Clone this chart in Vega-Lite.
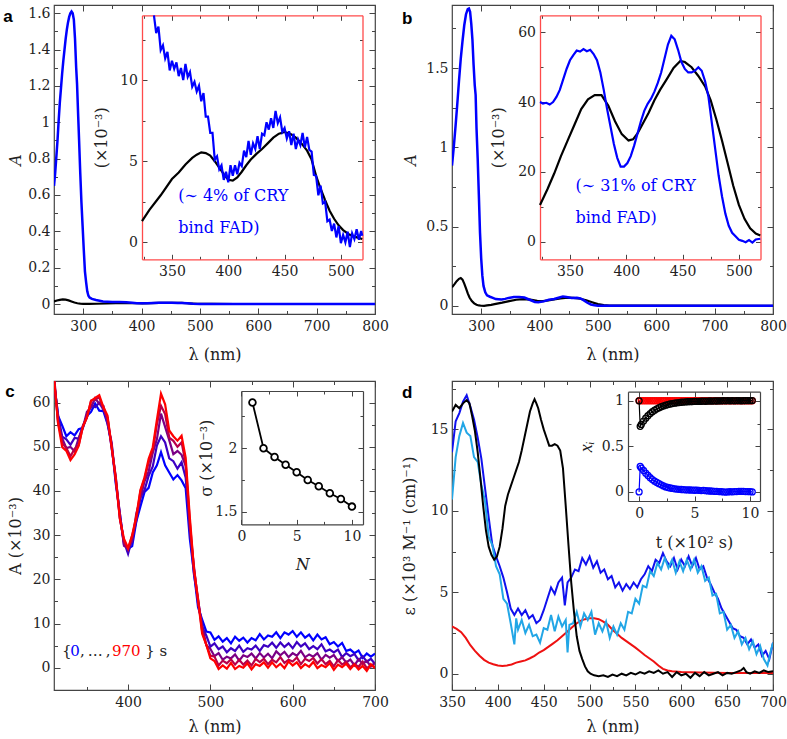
{
"$schema": "https://vega.github.io/schema/vega-lite/v6.json",
"autosize": {"type": "pad"},
"padding": {"left": 2, "top": 3, "right": 5, "bottom": 5},
"background": "white",
"columns": 2,
"spacing": {"row": 67, "column": 77},
"bounds": "flush",
"config": {
 "font": "DejaVu Serif",
 "view": {"stroke": "#444", "strokeWidth": 1.2},
 "axis": {"labelFont": "DejaVu Serif", "labelFontSize": 14, "labelColor": "#222", "titleFont": "DejaVu Serif", "titleFontSize": 16, "titleFontWeight": "normal", "titleColor": "#222", "tickColor": "#444", "tickWidth": 1, "grid": false, "labelFlush": false, "labelOverlap": false, "minExtent": 0},
 "text": {"font": "DejaVu Serif"}
},
"datasets": {
 "a_blue": [{"w":250,"v":0.65},{"w":252,"v":0.72},{"w":254,"v":0.81},{"w":256,"v":0.9},{"w":258,"v":1.01},{"w":260,"v":1.11},{"w":262,"v":1.19},{"w":264,"v":1.27},{"w":266,"v":1.34},{"w":268,"v":1.4},{"w":270,"v":1.46},{"w":272,"v":1.51},{"w":274,"v":1.55},{"w":276,"v":1.58},{"w":278,"v":1.6},{"w":280,"v":1.61},{"w":282,"v":1.6},{"w":284,"v":1.565},{"w":286,"v":1.46},{"w":288,"v":1.3},{"w":289.5,"v":1.21},{"w":291.5,"v":1.03},{"w":293,"v":0.9},{"w":295,"v":0.72},{"w":297,"v":0.56},{"w":299,"v":0.43},{"w":301,"v":0.3},{"w":303,"v":0.18},{"w":305,"v":0.12},{"w":307,"v":0.07},{"w":309,"v":0.045},{"w":311,"v":0.036},{"w":315,"v":0.028},{"w":322,"v":0.022},{"w":334,"v":0.014},{"w":350,"v":0.011},{"w":362,"v":0.0105},{"w":374,"v":0.0093},{"w":384,"v":0.007},{"w":392,"v":0.0046},{"w":400,"v":0.0042},{"w":410,"v":0.0048},{"w":420,"v":0.0058},{"w":430,"v":0.0064},{"w":442,"v":0.0076},{"w":452,"v":0.0067},{"w":462,"v":0.0062},{"w":470,"v":0.0062},{"w":478,"v":0.0039},{"w":488,"v":0.0017},{"w":500,"v":0.0004},{"w":520,"v":0.0005},{"w":560,"v":0},{"w":800,"v":0}],
 "a_black": [{"w":250,"v":0.014},{"w":255,"v":0.019},{"w":260,"v":0.023},{"w":265,"v":0.025},{"w":270,"v":0.024},{"w":275,"v":0.02},{"w":280,"v":0.014},{"w":285,"v":0.008},{"w":290,"v":0.004},{"w":295,"v":0.002},{"w":300,"v":0.001},{"w":310,"v":0.0008},{"w":323,"v":0.0013},{"w":340,"v":0.0029},{"w":356,"v":0.0043},{"w":371,"v":0.0053},{"w":377,"v":0.0056},{"w":385,"v":0.0053},{"w":392,"v":0.0046},{"w":401,"v":0.0038},{"w":416,"v":0.0047},{"w":430,"v":0.0058},{"w":442,"v":0.0066},{"w":451,"v":0.0068},{"w":460,"v":0.0064},{"w":469,"v":0.0058},{"w":478,"v":0.0041},{"w":487,"v":0.0025},{"w":496,"v":0.0012},{"w":508,"v":0.0005},{"w":520,"v":0.0002},{"w":560,"v":0},{"w":800,"v":0}],
 "ai_black": [{"w":323.4,"v":1.3},{"w":330,"v":2.0},{"w":340,"v":2.9},{"w":350,"v":3.9},{"w":356,"v":4.3},{"w":362,"v":4.8},{"w":368,"v":5.2},{"w":372,"v":5.4},{"w":376,"v":5.55},{"w":380,"v":5.5},{"w":384,"v":5.35},{"w":388,"v":5.0},{"w":392,"v":4.6},{"w":396,"v":4.2},{"w":400,"v":3.85},{"w":404,"v":3.8},{"w":408,"v":4.0},{"w":412,"v":4.35},{"w":416,"v":4.75},{"w":420,"v":5.1},{"w":425,"v":5.45},{"w":430,"v":5.75},{"w":435,"v":6.1},{"w":440,"v":6.45},{"w":445,"v":6.7},{"w":450,"v":6.8},{"w":455,"v":6.7},{"w":460,"v":6.45},{"w":465,"v":6.1},{"w":470,"v":5.65},{"w":474,"v":5.1},{"w":478,"v":4.1},{"w":482,"v":3.3},{"w":486,"v":2.6},{"w":490,"v":1.95},{"w":494,"v":1.45},{"w":498,"v":1.05},{"w":502,"v":0.75},{"w":507,"v":0.5},{"w":512,"v":0.35},{"w":519,"v":0.2}],
 "ai_blue": [{"w":334,"v":14.0},{"w":336,"v":12.9},{"w":338,"v":13.3},{"w":340,"v":11.85},{"w":342,"v":12.15},{"w":344,"v":11.35},{"w":346,"v":11.75},{"w":348,"v":10.6},{"w":350,"v":11.2},{"w":352,"v":10.7},{"w":354,"v":11.1},{"w":356,"v":10.25},{"w":358,"v":10.75},{"w":360,"v":10.0},{"w":362,"v":11.0},{"w":364,"v":10.2},{"w":366,"v":10.5},{"w":368,"v":9.6},{"w":370,"v":9.9},{"w":372,"v":9.3},{"w":374,"v":9.65},{"w":376,"v":8.7},{"w":378,"v":9.2},{"w":380,"v":7.75},{"w":382,"v":7.75},{"w":384,"v":6.75},{"w":386,"v":6.75},{"w":388,"v":5.1},{"w":390,"v":5.3},{"w":392,"v":4.5},{"w":394,"v":4.75},{"w":396,"v":3.85},{"w":398,"v":4.35},{"w":400,"v":3.7},{"w":402,"v":4.75},{"w":404,"v":4.1},{"w":406,"v":4.75},{"w":408,"v":4.2},{"w":410,"v":4.9},{"w":412,"v":4.7},{"w":414,"v":5.65},{"w":416,"v":5.25},{"w":418,"v":6.25},{"w":420,"v":5.4},{"w":422,"v":6.1},{"w":424,"v":5.75},{"w":426,"v":6.55},{"w":428,"v":5.75},{"w":430,"v":6.7},{"w":432,"v":6.6},{"w":434,"v":7.4},{"w":436,"v":6.95},{"w":438,"v":7.65},{"w":440,"v":7.05},{"w":442,"v":8.1},{"w":444,"v":7.35},{"w":446,"v":7.7},{"w":448,"v":6.8},{"w":450,"v":7.05},{"w":452,"v":6.4},{"w":454,"v":6.85},{"w":456,"v":6.0},{"w":458,"v":6.7},{"w":460,"v":5.75},{"w":462,"v":6.35},{"w":464,"v":6.0},{"w":466,"v":6.75},{"w":468,"v":5.85},{"w":470,"v":6.5},{"w":472,"v":5.7},{"w":474,"v":5.6},{"w":476,"v":4.15},{"w":478,"v":4.1},{"w":480,"v":2.9},{"w":482,"v":3.5},{"w":484,"v":2.4},{"w":486,"v":2.5},{"w":488,"v":1.3},{"w":490,"v":1.4},{"w":492,"v":0.7},{"w":494,"v":1.15},{"w":496,"v":0.3},{"w":498,"v":1.0},{"w":500,"v":-0.05},{"w":502,"v":0.45},{"w":504,"v":0.0},{"w":506,"v":0.65},{"w":508,"v":-0.3},{"w":510,"v":0.55},{"w":512,"v":0.2},{"w":514,"v":0.8},{"w":516,"v":0.15},{"w":518,"v":0.7},{"w":519,"v":0.4}],
 "b_blue": [{"w":250,"v":0.885},{"w":253,"v":1.0},{"w":256,"v":1.13},{"w":259,"v":1.27},{"w":262,"v":1.42},{"w":265,"v":1.56},{"w":268,"v":1.67},{"w":271,"v":1.77},{"w":274,"v":1.84},{"w":277,"v":1.872},{"w":279,"v":1.876},{"w":281,"v":1.855},{"w":283,"v":1.78},{"w":285,"v":1.68},{"w":287,"v":1.52},{"w":289,"v":1.39},{"w":290.5,"v":1.33},{"w":292,"v":1.12},{"w":294,"v":0.93},{"w":296,"v":0.7},{"w":298,"v":0.46},{"w":300,"v":0.3},{"w":302,"v":0.19},{"w":304,"v":0.125},{"w":307,"v":0.085},{"w":310,"v":0.066},{"w":315,"v":0.057},{"w":320,"v":0.05},{"w":325,"v":0.042},{"w":335,"v":0.04},{"w":341,"v":0.0435},{"w":347,"v":0.0495},{"w":356,"v":0.0548},{"w":365,"v":0.0546},{"w":374,"v":0.052},{"w":383,"v":0.038},{"w":392,"v":0.024},{"w":398,"v":0.0215},{"w":407,"v":0.0275},{"w":416,"v":0.0375},{"w":425,"v":0.043},{"w":434,"v":0.0525},{"w":440,"v":0.059},{"w":446,"v":0.055},{"w":455,"v":0.0485},{"w":464,"v":0.05},{"w":470,"v":0.046},{"w":476,"v":0.034},{"w":482,"v":0.019},{"w":488,"v":0.008},{"w":494,"v":0.0025},{"w":500,"v":0.0005},{"w":520,"v":0.0005},{"w":800,"v":0}],
 "b_black": [{"w":250,"v":0.117},{"w":254,"v":0.135},{"w":258,"v":0.155},{"w":262,"v":0.17},{"w":265,"v":0.175},{"w":268,"v":0.165},{"w":271,"v":0.14},{"w":274,"v":0.11},{"w":277,"v":0.078},{"w":280,"v":0.052},{"w":284,"v":0.03},{"w":288,"v":0.015},{"w":292,"v":0.006},{"w":296,"v":0.002},{"w":300,"v":0},{"w":305,"v":-0.001},{"w":310,"v":0.002},{"w":317,"v":0.006},{"w":323,"v":0.0105},{"w":336,"v":0.0195},{"w":348,"v":0.029},{"w":360,"v":0.038},{"w":372,"v":0.042},{"w":384,"v":0.039},{"w":396,"v":0.0308},{"w":406,"v":0.0293},{"w":415,"v":0.034},{"w":425,"v":0.0405},{"w":436,"v":0.0466},{"w":448,"v":0.0518},{"w":458,"v":0.05},{"w":470,"v":0.0445},{"w":480,"v":0.035},{"w":490,"v":0.0225},{"w":500,"v":0.0105},{"w":510,"v":0.0038},{"w":520,"v":0.0017},{"w":540,"v":0.0005},{"w":800,"v":0}],
 "bi_blue": [{"w":323.4,"v":40.0},{"w":326,"v":39.6},{"w":329,"v":39.8},{"w":332,"v":39.3},{"w":335,"v":40.0},{"w":338,"v":41.5},{"w":341,"v":43.5},{"w":344,"v":46.5},{"w":347,"v":49.5},{"w":350,"v":52.0},{"w":353,"v":53.5},{"w":356,"v":54.8},{"w":359,"v":54.5},{"w":362,"v":55.2},{"w":365,"v":54.6},{"w":368,"v":55.0},{"w":371,"v":53.8},{"w":374,"v":52.0},{"w":377,"v":48.5},{"w":380,"v":43.5},{"w":383,"v":38.0},{"w":386,"v":33.0},{"w":389,"v":28.0},{"w":392,"v":24.0},{"w":395,"v":21.5},{"w":398,"v":21.5},{"w":401,"v":22.5},{"w":404,"v":24.5},{"w":407,"v":27.5},{"w":410,"v":31.0},{"w":413,"v":34.5},{"w":416,"v":37.5},{"w":419,"v":39.5},{"w":422,"v":41.0},{"w":425,"v":43.0},{"w":428,"v":45.5},{"w":431,"v":48.5},{"w":434,"v":52.5},{"w":437,"v":56.5},{"w":440,"v":59.0},{"w":443,"v":58.0},{"w":446,"v":55.0},{"w":449,"v":51.5},{"w":452,"v":49.5},{"w":455,"v":48.5},{"w":458,"v":48.5},{"w":461,"v":49.0},{"w":464,"v":50.0},{"w":467,"v":49.0},{"w":470,"v":46.0},{"w":473,"v":41.5},{"w":476,"v":34.0},{"w":479,"v":26.5},{"w":482,"v":19.0},{"w":485,"v":13.0},{"w":488,"v":8.0},{"w":491,"v":4.5},{"w":494,"v":2.5},{"w":497,"v":1.5},{"w":500,"v":0.5},{"w":503,"v":0.2},{"w":506,"v":-0.2},{"w":509,"v":0.4},{"w":512,"v":-0.3},{"w":515,"v":0.6},{"w":519,"v":0.8}],
 "bi_black": [{"w":323.4,"v":10.5},{"w":330,"v":15.0},{"w":336,"v":19.5},{"w":342,"v":24.5},{"w":348,"v":29.0},{"w":354,"v":33.5},{"w":360,"v":38.0},{"w":366,"v":40.8},{"w":372,"v":42.0},{"w":378,"v":42.0},{"w":384,"v":39.0},{"w":390,"v":34.5},{"w":396,"v":30.8},{"w":402,"v":29.0},{"w":406,"v":29.3},{"w":410,"v":31.0},{"w":415,"v":34.0},{"w":420,"v":37.0},{"w":425,"v":40.5},{"w":430,"v":43.5},{"w":436,"v":46.6},{"w":442,"v":49.8},{"w":448,"v":51.8},{"w":452,"v":51.5},{"w":458,"v":50.0},{"w":464,"v":47.5},{"w":470,"v":44.5},{"w":475,"v":40.5},{"w":480,"v":35.0},{"w":485,"v":29.0},{"w":490,"v":22.5},{"w":495,"v":16.0},{"w":500,"v":10.5},{"w":505,"v":6.5},{"w":510,"v":3.8},{"w":515,"v":2.3},{"w":519,"v":1.7}],
 "c_curves": [
{"w":310,"k":0,"v":64.6},{"w":315,"k":0,"v":57.0},{"w":320,"k":0,"v":54.8},{"w":325,"k":0,"v":52.4},{"w":330,"k":0,"v":53.3},{"w":335,"k":0,"v":52.6},{"w":340,"k":0,"v":54.0},{"w":345,"k":0,"v":54.3},{"w":350,"k":0,"v":57.0},{"w":355,"k":0,"v":57.9},{"w":360,"k":0,"v":59.8},{"w":365,"k":0,"v":58.2},{"w":370,"k":0,"v":58.1},{"w":375,"k":0,"v":55.2},{"w":380,"k":0,"v":50.6},{"w":385,"k":0,"v":41.7},{"w":390,"k":0,"v":34.9},{"w":395,"k":0,"v":27.9},{"w":400,"k":0,"v":26.9},{"w":405,"k":0,"v":27.5},{"w":410,"k":0,"v":33.1},{"w":415,"k":0,"v":36.5},{"w":420,"k":0,"v":39.8},{"w":425,"k":0,"v":40.7},{"w":430,"k":0,"v":44.2},{"w":435,"k":0,"v":45.8},{"w":440,"k":0,"v":48.8},{"w":445,"k":0,"v":45.8},{"w":450,"k":0,"v":44.2},{"w":455,"k":0,"v":42.6},{"w":460,"k":0,"v":43.6},{"w":465,"k":0,"v":42.4},{"w":470,"k":0,"v":40.6},{"w":475,"k":0,"v":29.2},{"w":480,"k":0,"v":21.6},{"w":485,"k":0,"v":13.7},{"w":490,"k":0,"v":10.9},{"w":495,"k":0,"v":8.2},{"w":500,"k":0,"v":8.0},{"w":505,"k":0,"v":6.3},{"w":510,"k":0,"v":7.1},{"w":515,"k":0,"v":5.9},{"w":520,"k":0,"v":6.7},{"w":525,"k":0,"v":5.5},{"w":530,"k":0,"v":7.0},{"w":535,"k":0,"v":6.1},{"w":540,"k":0,"v":6.8},{"w":545,"k":0,"v":5.7},{"w":550,"k":0,"v":6.7},{"w":555,"k":0,"v":6.2},{"w":560,"k":0,"v":7.6},{"w":565,"k":0,"v":6.4},{"w":570,"k":0,"v":7.3},{"w":575,"k":0,"v":7.0},{"w":580,"k":0,"v":8.0},{"w":585,"k":0,"v":6.7},{"w":590,"k":0,"v":8.0},{"w":595,"k":0,"v":7.5},{"w":600,"k":0,"v":8.3},{"w":605,"k":0,"v":7.0},{"w":610,"k":0,"v":8.0},{"w":615,"k":0,"v":6.8},{"w":620,"k":0,"v":7.5},{"w":625,"k":0,"v":6.2},{"w":630,"k":0,"v":7.5},{"w":635,"k":0,"v":6.4},{"w":640,"k":0,"v":6.9},{"w":645,"k":0,"v":5.3},{"w":650,"k":0,"v":5.8},{"w":655,"k":0,"v":4.8},{"w":660,"k":0,"v":5.6},{"w":665,"k":0,"v":3.8},{"w":670,"k":0,"v":4.1},{"w":675,"k":0,"v":3.3},{"w":680,"k":0,"v":3.9},{"w":685,"k":0,"v":2.2},{"w":690,"k":0,"v":3.2},{"w":695,"k":0,"v":2.5},{"w":700,"k":0,"v":3.2},
{"w":310,"k":1,"v":64.7},{"w":315,"k":1,"v":57.1},{"w":320,"k":1,"v":52.3},{"w":325,"k":1,"v":51.7},{"w":330,"k":1,"v":50.45},{"w":335,"k":1,"v":52.0},{"w":340,"k":1,"v":51.85},{"w":345,"k":1,"v":54.75},{"w":350,"k":1,"v":56.75},{"w":355,"k":1,"v":59.5},{"w":360,"k":1,"v":58.97},{"w":365,"k":1,"v":59.97},{"w":370,"k":1,"v":58.4},{"w":375,"k":1,"v":56.55},{"w":380,"k":1,"v":49.7},{"w":385,"k":1,"v":43.1},{"w":390,"k":1,"v":34.0},{"w":395,"k":1,"v":28.5},{"w":400,"k":1,"v":25.8},{"w":405,"k":1,"v":29.2},{"w":410,"k":1,"v":33.2},{"w":415,"k":1,"v":38.55},{"w":420,"k":1,"v":40.2},{"w":425,"k":1,"v":43.45},{"w":430,"k":1,"v":45.55},{"w":435,"k":1,"v":50.3},{"w":440,"k":1,"v":52.4},{"w":445,"k":1,"v":51.0},{"w":450,"k":1,"v":47.4},{"w":455,"k":1,"v":46.75},{"w":460,"k":1,"v":45.05},{"w":465,"k":1,"v":46.5},{"w":470,"k":1,"v":43.0},{"w":475,"k":1,"v":31.6},{"w":480,"k":1,"v":21.2},{"w":485,"k":1,"v":15.3},{"w":490,"k":1,"v":9.3},{"w":495,"k":1,"v":7.3},{"w":500,"k":1,"v":4.75},{"w":505,"k":1,"v":5.5},{"w":510,"k":1,"v":4.2},{"w":515,"k":1,"v":4.8},{"w":520,"k":1,"v":3.5},{"w":525,"k":1,"v":4.4},{"w":530,"k":1,"v":3.8},{"w":535,"k":1,"v":5.0},{"w":540,"k":1,"v":3.6},{"w":545,"k":1,"v":4.4},{"w":550,"k":1,"v":4.1},{"w":555,"k":1,"v":5.0},{"w":560,"k":1,"v":3.8},{"w":565,"k":1,"v":5.1},{"w":570,"k":1,"v":4.75},{"w":575,"k":1,"v":5.65},{"w":580,"k":1,"v":4.5},{"w":585,"k":1,"v":5.7},{"w":590,"k":1,"v":4.7},{"w":595,"k":1,"v":5.5},{"w":600,"k":1,"v":4.4},{"w":605,"k":1,"v":5.8},{"w":610,"k":1,"v":4.8},{"w":615,"k":1,"v":5.5},{"w":620,"k":1,"v":4.2},{"w":625,"k":1,"v":4.9},{"w":630,"k":1,"v":4.2},{"w":635,"k":1,"v":5.3},{"w":640,"k":1,"v":3.7},{"w":645,"k":1,"v":4.1},{"w":650,"k":1,"v":3.45},{"w":655,"k":1,"v":4.1},{"w":660,"k":1,"v":2.4},{"w":665,"k":1,"v":3.3},{"w":670,"k":1,"v":2.6},{"w":675,"k":1,"v":3.1},{"w":680,"k":1,"v":1.7},{"w":685,"k":1,"v":2.6},{"w":690,"k":1,"v":1.35},{"w":695,"k":1,"v":2.0},{"w":700,"k":1,"v":0.85},
{"w":310,"k":2,"v":66.4},{"w":315,"k":2,"v":55.3},{"w":320,"k":2,"v":51.9},{"w":325,"k":2,"v":49.7},{"w":330,"k":2,"v":49.95},{"w":335,"k":2,"v":49.0},{"w":340,"k":2,"v":51.95},{"w":345,"k":2,"v":54.25},{"w":350,"k":2,"v":57.95},{"w":355,"k":2,"v":58.9},{"w":360,"k":2,"v":61.0},{"w":365,"k":2,"v":59.7},{"w":370,"k":2,"v":59.3},{"w":375,"k":2,"v":55.35},{"w":380,"k":2,"v":51.0},{"w":385,"k":2,"v":42.3},{"w":390,"k":2,"v":35.0},{"w":395,"k":2,"v":27.6},{"w":400,"k":2,"v":27.1},{"w":405,"k":2,"v":28.6},{"w":410,"k":2,"v":34.9},{"w":415,"k":2,"v":38.35},{"w":420,"k":2,"v":42.2},{"w":425,"k":2,"v":44.45},{"w":430,"k":2,"v":48.65},{"w":435,"k":2,"v":51.7},{"w":440,"k":2,"v":57.5},{"w":445,"k":2,"v":54.5},{"w":450,"k":2,"v":51.5},{"w":455,"k":2,"v":48.35},{"w":460,"k":2,"v":49.05},{"w":465,"k":2,"v":48.2},{"w":470,"k":2,"v":45.7},{"w":475,"k":2,"v":31.3},{"w":480,"k":2,"v":23.0},{"w":485,"k":2,"v":14.6},{"w":490,"k":2,"v":9.7},{"w":495,"k":2,"v":5.1},{"w":500,"k":2,"v":4.25},{"w":505,"k":2,"v":2.6},{"w":510,"k":2,"v":3.3},{"w":515,"k":2,"v":1.8},{"w":520,"k":2,"v":2.5},{"w":525,"k":2,"v":2.1},{"w":530,"k":2,"v":3.0},{"w":535,"k":2,"v":1.6},{"w":540,"k":2,"v":2.8},{"w":545,"k":2,"v":2.4},{"w":550,"k":2,"v":3.2},{"w":555,"k":2,"v":2.1},{"w":560,"k":2,"v":3.3},{"w":565,"k":2,"v":2.3},{"w":570,"k":2,"v":3.15},{"w":575,"k":2,"v":2.15},{"w":580,"k":2,"v":3.7},{"w":585,"k":2,"v":2.8},{"w":590,"k":2,"v":3.6},{"w":595,"k":2,"v":2.4},{"w":600,"k":2,"v":3.3},{"w":605,"k":2,"v":2.7},{"w":610,"k":2,"v":3.8},{"w":615,"k":2,"v":2.35},{"w":620,"k":2,"v":3.0},{"w":625,"k":2,"v":2.5},{"w":630,"k":2,"v":3.3},{"w":635,"k":2,"v":1.8},{"w":640,"k":2,"v":2.9},{"w":645,"k":2,"v":2.25},{"w":650,"k":2,"v":2.85},{"w":655,"k":2,"v":1.5},{"w":660,"k":2,"v":2.4},{"w":665,"k":2,"v":1.2},{"w":670,"k":2,"v":1.85},{"w":675,"k":2,"v":0.55},{"w":680,"k":2,"v":1.9},{"w":685,"k":2,"v":0.9},{"w":690,"k":2,"v":1.55},{"w":695,"k":2,"v":0.25},{"w":700,"k":2,"v":1.15},
{"w":310,"k":3,"v":65.3},{"w":315,"k":3,"v":55.8},{"w":320,"k":3,"v":50.8},{"w":325,"k":3,"v":49.7},{"w":330,"k":3,"v":47.85},{"w":335,"k":3,"v":49.5},{"w":340,"k":3,"v":50.45},{"w":345,"k":3,"v":54.45},{"w":350,"k":3,"v":56.6},{"w":355,"k":3,"v":60.45},{"w":360,"k":3,"v":60.7},{"w":365,"k":3,"v":61.2},{"w":370,"k":3,"v":58.6},{"w":375,"k":3,"v":56.55},{"w":380,"k":3,"v":50.0},{"w":385,"k":3,"v":43.3},{"w":390,"k":3,"v":33.9},{"w":395,"k":3,"v":28.5},{"w":400,"k":3,"v":26.8},{"w":405,"k":3,"v":29.9},{"w":410,"k":3,"v":33.8},{"w":415,"k":3,"v":39.95},{"w":420,"k":3,"v":42.8},{"w":425,"k":3,"v":46.45},{"w":430,"k":3,"v":48.95},{"w":435,"k":3,"v":55.1},{"w":440,"k":3,"v":59.3},{"w":445,"k":3,"v":57.4},{"w":450,"k":3,"v":52.1},{"w":455,"k":3,"v":51.35},{"w":460,"k":3,"v":50.0},{"w":465,"k":3,"v":51.0},{"w":470,"k":3,"v":46.2},{"w":475,"k":3,"v":33.1},{"w":480,"k":3,"v":22.3},{"w":485,"k":3,"v":15.7},{"w":490,"k":3,"v":8.2},{"w":495,"k":3,"v":5.2},{"w":500,"k":3,"v":2.75},{"w":505,"k":3,"v":2.5},{"w":510,"k":3,"v":0.5},{"w":515,"k":3,"v":1.6},{"w":520,"k":3,"v":1.0},{"w":525,"k":3,"v":1.9},{"w":530,"k":3,"v":0.7},{"w":535,"k":3,"v":1.8},{"w":540,"k":3,"v":0.7},{"w":545,"k":3,"v":1.6},{"w":550,"k":3,"v":0.5},{"w":555,"k":3,"v":2.0},{"w":560,"k":3,"v":1.25},{"w":565,"k":3,"v":2.0},{"w":570,"k":3,"v":0.8},{"w":575,"k":3,"v":1.8},{"w":580,"k":3,"v":1.2},{"w":585,"k":3,"v":2.4},{"w":590,"k":3,"v":1.1},{"w":595,"k":3,"v":1.8},{"w":600,"k":3,"v":1.4},{"w":605,"k":3,"v":2.3},{"w":610,"k":3,"v":0.8},{"w":615,"k":3,"v":2.0},{"w":620,"k":3,"v":1.5},{"w":625,"k":3,"v":2.2},{"w":630,"k":3,"v":0.95},{"w":635,"k":3,"v":1.95},{"w":640,"k":3,"v":0.8},{"w":645,"k":3,"v":1.55},{"w":650,"k":3,"v":0.3},{"w":655,"k":3,"v":1.75},{"w":660,"k":3,"v":0.7},{"w":665,"k":3,"v":1.35},{"w":670,"k":3,"v":0.1},{"w":675,"k":3,"v":0.85},{"w":680,"k":3,"v":0.2},{"w":685,"k":3,"v":1.35},{"w":690,"k":3,"v":-0.1},{"w":695,"k":3,"v":0.55},{"w":700,"k":3,"v":0.15},
{"w":310,"k":4,"v":65.8},{"w":315,"k":4,"v":55.2},{"w":320,"k":4,"v":49.9},{"w":325,"k":4,"v":49.1},{"w":330,"k":4,"v":47.0},{"w":335,"k":4,"v":48.3},{"w":340,"k":4,"v":50.2},{"w":345,"k":4,"v":54.6},{"w":350,"k":4,"v":56.7},{"w":355,"k":4,"v":60.4},{"w":360,"k":4,"v":61.1},{"w":365,"k":4,"v":61.7},{"w":370,"k":4,"v":59.0},{"w":375,"k":4,"v":57.1},{"w":380,"k":4,"v":50.0},{"w":385,"k":4,"v":42.8},{"w":390,"k":4,"v":33.7},{"w":395,"k":4,"v":29.2},{"w":400,"k":4,"v":27.1},{"w":405,"k":4,"v":30.0},{"w":410,"k":4,"v":34.3},{"w":415,"k":4,"v":40.2},{"w":420,"k":4,"v":43.1},{"w":425,"k":4,"v":47.3},{"w":430,"k":4,"v":49.9},{"w":435,"k":4,"v":56.1},{"w":440,"k":4,"v":62.0},{"w":445,"k":4,"v":59.6},{"w":450,"k":4,"v":53.7},{"w":455,"k":4,"v":52.4},{"w":460,"k":4,"v":51.4},{"w":465,"k":4,"v":52.5},{"w":470,"k":4,"v":47.5},{"w":475,"k":4,"v":34.1},{"w":480,"k":4,"v":22.5},{"w":485,"k":4,"v":15.3},{"w":490,"k":4,"v":7.7},{"w":495,"k":4,"v":5.2},{"w":500,"k":4,"v":2.1},{"w":505,"k":4,"v":1.5},{"w":510,"k":4,"v":-0.3},{"w":515,"k":4,"v":0.5},{"w":520,"k":4,"v":-0.2},{"w":525,"k":4,"v":1.1},{"w":530,"k":4,"v":-0.3},{"w":535,"k":4,"v":0.4},{"w":540,"k":4,"v":0.0},{"w":545,"k":4,"v":1.0},{"w":550,"k":4,"v":-0.4},{"w":555,"k":4,"v":0.8},{"w":560,"k":4,"v":0.4},{"w":565,"k":4,"v":1.2},{"w":570,"k":4,"v":0.0},{"w":575,"k":4,"v":1.2},{"w":580,"k":4,"v":0.1},{"w":585,"k":4,"v":0.9},{"w":590,"k":4,"v":-0.1},{"w":595,"k":4,"v":1.4},{"w":600,"k":4,"v":0.5},{"w":605,"k":4,"v":1.2},{"w":610,"k":4,"v":-0.1},{"w":615,"k":4,"v":0.8},{"w":620,"k":4,"v":0.2},{"w":625,"k":4,"v":1.3},{"w":630,"k":4,"v":-0.1},{"w":635,"k":4,"v":0.6},{"w":640,"k":4,"v":0.1},{"w":645,"k":4,"v":1.0},{"w":650,"k":4,"v":-0.5},{"w":655,"k":4,"v":0.7},{"w":660,"k":4,"v":0.1},{"w":665,"k":4,"v":0.9},{"w":670,"k":4,"v":-0.3},{"w":675,"k":4,"v":0.7},{"w":680,"k":4,"v":-0.4},{"w":685,"k":4,"v":0.4},{"w":690,"k":4,"v":-0.7},{"w":695,"k":4,"v":0.8},{"w":700,"k":4,"v":-0.1}
 ],
 "ci": [{"n":1,"s":2.36},{"n":2,"s":2.0},{"n":3,"s":1.93},{"n":4,"s":1.87},{"n":5,"s":1.81},{"n":6,"s":1.75},{"n":7,"s":1.7},{"n":8,"s":1.645},{"n":9,"s":1.6},{"n":10,"s":1.54}],
 "d_black": [{"w":350,"v":16.1},{"w":354,"v":16.5},{"w":358,"v":16.3},{"w":362,"v":16.6},{"w":366,"v":16.8},{"w":369,"v":16.6},{"w":372,"v":15.8},{"w":375,"v":14.9},{"w":378,"v":13.6},{"w":381,"v":12.0},{"w":384,"v":10.3},{"w":387,"v":8.8},{"w":390,"v":7.8},{"w":393,"v":7.3},{"w":396,"v":7.0},{"w":399,"v":7.2},{"w":402,"v":7.8},{"w":405,"v":8.9},{"w":408,"v":10.3},{"w":411,"v":11.0},{"w":414,"v":11.5},{"w":417,"v":12.0},{"w":420,"v":12.5},{"w":423,"v":13.0},{"w":426,"v":13.7},{"w":429,"v":14.5},{"w":432,"v":15.3},{"w":435,"v":16.1},{"w":438,"v":16.6},{"w":440,"v":16.85},{"w":442,"v":16.6},{"w":444,"v":16.3},{"w":447,"v":15.6},{"w":450,"v":15.0},{"w":453,"v":14.5},{"w":456,"v":14.0},{"w":459,"v":14.0},{"w":462,"v":14.1},{"w":465,"v":14.0},{"w":468,"v":13.7},{"w":471,"v":12.6},{"w":474,"v":10.3},{"w":477,"v":7.9},{"w":480,"v":5.6},{"w":483,"v":3.8},{"w":486,"v":2.3},{"w":489,"v":1.4},{"w":492,"v":0.9},{"w":495,"v":0.45},{"w":498,"v":0.15},{"w":501,"v":0.0},{"w":505,"v":-0.1},{"w":510,"v":-0.15},{"w":515,"v":-0.1},{"w":520,"v":-0.2},{"w":525,"v":-0.05},{"w":530,"v":-0.15},{"w":535,"v":0.0},{"w":540,"v":-0.1},{"w":545,"v":0.05},{"w":550,"v":-0.05},{"w":555,"v":0.1},{"w":560,"v":0.0},{"w":565,"v":0.15},{"w":570,"v":0.05},{"w":575,"v":0.2},{"w":580,"v":0.0},{"w":585,"v":0.1},{"w":590,"v":-0.2},{"w":595,"v":0.1},{"w":600,"v":-0.1},{"w":605,"v":0.0},{"w":610,"v":-0.25},{"w":615,"v":0.05},{"w":620,"v":-0.15},{"w":625,"v":0.1},{"w":630,"v":-0.1},{"w":635,"v":0.0},{"w":640,"v":0.1},{"w":645,"v":-0.1},{"w":650,"v":0.05},{"w":655,"v":0.0},{"w":660,"v":0.1},{"w":665,"v":0.2},{"w":668,"v":0.35},{"w":671,"v":0.1},{"w":675,"v":0.0},{"w":680,"v":0.15},{"w":685,"v":0.05},{"w":690,"v":0.2},{"w":695,"v":0.1},{"w":700,"v":0.15}],
 "d_red": [{"w":350,"v":2.9},{"w":355,"v":2.75},{"w":360,"v":2.55},{"w":365,"v":2.2},{"w":370,"v":1.75},{"w":375,"v":1.4},{"w":380,"v":1.1},{"w":385,"v":0.85},{"w":390,"v":0.68},{"w":395,"v":0.58},{"w":400,"v":0.5},{"w":405,"v":0.47},{"w":410,"v":0.5},{"w":415,"v":0.57},{"w":420,"v":0.68},{"w":425,"v":0.75},{"w":430,"v":0.82},{"w":435,"v":0.95},{"w":440,"v":1.1},{"w":445,"v":1.3},{"w":450,"v":1.45},{"w":455,"v":1.65},{"w":460,"v":1.85},{"w":465,"v":2.05},{"w":470,"v":2.3},{"w":475,"v":2.55},{"w":480,"v":2.8},{"w":485,"v":3.05},{"w":490,"v":3.25},{"w":495,"v":3.35},{"w":500,"v":3.4},{"w":505,"v":3.4},{"w":510,"v":3.35},{"w":515,"v":3.2},{"w":520,"v":3.0},{"w":525,"v":2.7},{"w":530,"v":2.45},{"w":535,"v":2.2},{"w":540,"v":2.0},{"w":545,"v":1.8},{"w":550,"v":1.6},{"w":555,"v":1.38},{"w":560,"v":1.15},{"w":565,"v":0.95},{"w":570,"v":0.75},{"w":575,"v":0.5},{"w":580,"v":0.3},{"w":585,"v":0.2},{"w":590,"v":0.15},{"w":600,"v":0.1},{"w":620,"v":0.07},{"w":650,"v":0.05},{"w":700,"v":0.05}],
 "d_blue": [{"w":350,"v":13.6},{"w":354,"v":15.5},{"w":358,"v":16.0},{"w":362,"v":16.7},{"w":366,"v":17.1},{"w":370,"v":16.4},{"w":374,"v":15.6},{"w":378,"v":14.5},{"w":382,"v":13.2},{"w":386,"v":11.4},{"w":390,"v":9.6},{"w":394,"v":7.9},{"w":398,"v":7.2},{"w":402,"v":6.6},{"w":406,"v":5.9},{"w":410,"v":5.0},{"w":414,"v":4.0},{"w":418,"v":3.6},{"w":422,"v":4.0},{"w":426,"v":3.6},{"w":430,"v":3.9},{"w":434,"v":3.4},{"w":438,"v":3.6},{"w":442,"v":3.1},{"w":446,"v":3.3},{"w":450,"v":3.9},{"w":454,"v":4.6},{"w":458,"v":5.3},{"w":462,"v":4.9},{"w":466,"v":5.6},{"w":470,"v":5.9},{"w":473,"v":4.2},{"w":476,"v":5.6},{"w":480,"v":5.9},{"w":484,"v":6.4},{"w":488,"v":6.3},{"w":492,"v":7.1},{"w":496,"v":6.7},{"w":500,"v":7.2},{"w":504,"v":6.5},{"w":508,"v":6.9},{"w":512,"v":6.2},{"w":516,"v":6.4},{"w":520,"v":5.8},{"w":524,"v":6.0},{"w":528,"v":5.3},{"w":532,"v":5.6},{"w":536,"v":5.1},{"w":540,"v":5.5},{"w":544,"v":5.2},{"w":548,"v":5.6},{"w":552,"v":5.3},{"w":556,"v":5.8},{"w":560,"v":6.1},{"w":564,"v":6.6},{"w":568,"v":6.3},{"w":572,"v":7.0},{"w":576,"v":6.8},{"w":580,"v":7.4},{"w":584,"v":6.9},{"w":588,"v":6.6},{"w":592,"v":7.1},{"w":596,"v":6.4},{"w":600,"v":7.0},{"w":604,"v":6.6},{"w":608,"v":7.2},{"w":612,"v":6.6},{"w":616,"v":7.1},{"w":620,"v":6.4},{"w":624,"v":6.6},{"w":628,"v":5.9},{"w":632,"v":5.5},{"w":636,"v":5.0},{"w":640,"v":4.6},{"w":644,"v":4.0},{"w":648,"v":3.6},{"w":652,"v":3.2},{"w":656,"v":2.8},{"w":660,"v":2.7},{"w":664,"v":2.3},{"w":668,"v":2.2},{"w":672,"v":1.8},{"w":676,"v":2.1},{"w":680,"v":1.6},{"w":684,"v":1.8},{"w":688,"v":1.1},{"w":692,"v":1.4},{"w":696,"v":0.9},{"w":700,"v":1.9}],
 "d_lblue": [{"w":350,"v":10.7},{"w":354,"v":13.3},{"w":358,"v":14.6},{"w":362,"v":15.4},{"w":366,"v":14.8},{"w":370,"v":14.6},{"w":374,"v":13.3},{"w":378,"v":13.0},{"w":382,"v":11.6},{"w":386,"v":10.6},{"w":390,"v":8.4},{"w":394,"v":7.9},{"w":398,"v":6.6},{"w":402,"v":6.1},{"w":406,"v":4.6},{"w":410,"v":4.3},{"w":414,"v":3.1},{"w":418,"v":1.8},{"w":420,"v":3.4},{"w":422,"v":2.7},{"w":426,"v":3.3},{"w":430,"v":2.5},{"w":434,"v":3.0},{"w":438,"v":2.3},{"w":442,"v":2.4},{"w":446,"v":1.9},{"w":450,"v":2.8},{"w":454,"v":2.7},{"w":458,"v":3.6},{"w":462,"v":2.6},{"w":466,"v":3.5},{"w":470,"v":2.9},{"w":474,"v":3.3},{"w":476,"v":1.3},{"w":478,"v":3.0},{"w":482,"v":3.1},{"w":486,"v":3.8},{"w":490,"v":2.9},{"w":494,"v":3.7},{"w":498,"v":3.3},{"w":502,"v":3.8},{"w":506,"v":2.4},{"w":510,"v":3.1},{"w":514,"v":2.6},{"w":518,"v":3.2},{"w":522,"v":2.2},{"w":526,"v":2.9},{"w":530,"v":2.4},{"w":534,"v":3.1},{"w":538,"v":2.7},{"w":542,"v":3.8},{"w":546,"v":3.7},{"w":550,"v":4.6},{"w":554,"v":4.3},{"w":558,"v":5.4},{"w":562,"v":5.3},{"w":566,"v":6.3},{"w":570,"v":6.0},{"w":574,"v":6.8},{"w":578,"v":6.4},{"w":582,"v":7.1},{"w":586,"v":6.5},{"w":590,"v":7.0},{"w":594,"v":6.2},{"w":598,"v":6.9},{"w":602,"v":6.3},{"w":606,"v":7.0},{"w":610,"v":6.4},{"w":614,"v":7.0},{"w":618,"v":6.2},{"w":622,"v":6.6},{"w":626,"v":5.7},{"w":630,"v":5.9},{"w":634,"v":4.8},{"w":638,"v":4.9},{"w":642,"v":3.7},{"w":646,"v":3.8},{"w":650,"v":2.7},{"w":654,"v":3.0},{"w":658,"v":2.2},{"w":662,"v":2.6},{"w":666,"v":1.8},{"w":670,"v":2.2},{"w":674,"v":1.5},{"w":678,"v":2.0},{"w":682,"v":1.2},{"w":686,"v":1.7},{"w":690,"v":0.9},{"w":694,"v":0.5},{"w":698,"v":1.5},{"w":700,"v":1.9}],
 "di_red": [{"t":0,"x":1},{"t":0.2,"x":1},{"t":0.4,"x":1},{"t":0.6,"x":1},{"t":0.8,"x":1},{"t":1,"x":1},{"t":1.2,"x":1},{"t":1.4,"x":1},{"t":1.6,"x":1},{"t":1.8,"x":1},{"t":2,"x":1},{"t":2.2,"x":1},{"t":2.4,"x":1},{"t":2.6,"x":1},{"t":2.8,"x":1},{"t":3,"x":1},{"t":3.2,"x":1},{"t":3.4,"x":1},{"t":3.6,"x":1},{"t":3.8,"x":1},{"t":4,"x":1},{"t":4.2,"x":1},{"t":4.4,"x":1},{"t":4.6,"x":1},{"t":4.8,"x":1},{"t":5,"x":1},{"t":5.2,"x":1},{"t":5.4,"x":1},{"t":5.6,"x":1},{"t":5.8,"x":1},{"t":6,"x":1},{"t":6.2,"x":1},{"t":6.4,"x":1},{"t":6.6,"x":1},{"t":6.8,"x":1},{"t":7,"x":1},{"t":7.2,"x":1},{"t":7.4,"x":1},{"t":7.6,"x":1},{"t":7.8,"x":1},{"t":8,"x":1},{"t":8.2,"x":1},{"t":8.4,"x":1},{"t":8.6,"x":1},{"t":8.8,"x":1},{"t":9,"x":1},{"t":9.2,"x":1},{"t":9.4,"x":1},{"t":9.6,"x":1},{"t":9.8,"x":1},{"t":10,"x":1},{"t":10.2,"x":1}],
 "di_black": [{"t":0,"x":1},{"t":0.1,"x":0.72},{"t":0.2,"x":0.741},{"t":0.4,"x":0.778},{"t":0.6,"x":0.809},{"t":0.8,"x":0.836},{"t":1,"x":0.86},{"t":1.2,"x":0.88},{"t":1.4,"x":0.897},{"t":1.6,"x":0.912},{"t":1.8,"x":0.924},{"t":2,"x":0.935},{"t":2.2,"x":0.944},{"t":2.4,"x":0.952},{"t":2.6,"x":0.959},{"t":2.8,"x":0.965},{"t":3,"x":0.97},{"t":3.2,"x":0.974},{"t":3.4,"x":0.978},{"t":3.6,"x":0.981},{"t":3.8,"x":0.984},{"t":4,"x":0.986},{"t":4.2,"x":0.988},{"t":4.4,"x":0.99},{"t":4.6,"x":0.991},{"t":4.8,"x":0.992},{"t":5,"x":0.993},{"t":5.2,"x":0.994},{"t":5.4,"x":0.993},{"t":5.6,"x":0.995},{"t":5.8,"x":0.996},{"t":6,"x":0.995},{"t":6.2,"x":0.997},{"t":6.4,"x":0.998},{"t":6.6,"x":0.997},{"t":6.8,"x":0.999},{"t":7,"x":0.998},{"t":7.2,"x":1},{"t":7.4,"x":0.999},{"t":7.6,"x":1.001},{"t":7.8,"x":1},{"t":8,"x":1.002},{"t":8.2,"x":1},{"t":8.4,"x":1.001},{"t":8.6,"x":1},{"t":8.8,"x":1.002},{"t":9,"x":1.001},{"t":9.2,"x":1},{"t":9.4,"x":1.002},{"t":9.6,"x":1.001},{"t":9.8,"x":1.003},{"t":10,"x":1.002},{"t":10.2,"x":1.003}],
 "di_blue": [{"t":0,"x":0},{"t":0.1,"x":0.28},{"t":0.2,"x":0.262},{"t":0.4,"x":0.235},{"t":0.6,"x":0.205},{"t":0.8,"x":0.18},{"t":1,"x":0.155},{"t":1.2,"x":0.135},{"t":1.4,"x":0.118},{"t":1.6,"x":0.103},{"t":1.8,"x":0.09},{"t":2,"x":0.078},{"t":2.2,"x":0.066},{"t":2.4,"x":0.055},{"t":2.6,"x":0.048},{"t":2.8,"x":0.043},{"t":3,"x":0.038},{"t":3.2,"x":0.034},{"t":3.4,"x":0.031},{"t":3.6,"x":0.028},{"t":3.8,"x":0.026},{"t":4,"x":0.024},{"t":4.2,"x":0.023},{"t":4.4,"x":0.022},{"t":4.6,"x":0.021},{"t":4.8,"x":0.02},{"t":5,"x":0.018},{"t":5.2,"x":0.019},{"t":5.4,"x":0.017},{"t":5.6,"x":0.015},{"t":5.8,"x":0.016},{"t":6,"x":0.013},{"t":6.2,"x":0.011},{"t":6.4,"x":0.01},{"t":6.6,"x":0.008},{"t":6.8,"x":0.006},{"t":7,"x":0.005},{"t":7.2,"x":0.003},{"t":7.4,"x":0.002},{"t":7.6,"x":0},{"t":7.8,"x":-0.002},{"t":8,"x":0},{"t":8.2,"x":0.002},{"t":8.4,"x":0.001},{"t":8.6,"x":0.003},{"t":8.8,"x":0.004},{"t":9,"x":0.005},{"t":9.2,"x":0.006},{"t":9.4,"x":0.005},{"t":9.6,"x":0.004},{"t":9.8,"x":0.003},{"t":10,"x":0.002},{"t":10.2,"x":0}]
},
"concat": [
 {
  "width": 321, "height": 309,
  "resolve": {"scale": {"x": "independent", "y": "independent"}, "axis": {"x": "independent", "y": "independent"}},
  "layer": [
   {
    "encoding": {
     "x": {"field": "w", "type": "quantitative", "scale": {"domain": [250, 800], "nice": false, "zero": false},
       "axis": {"orient": "bottom", "values": [300,350,400,450,500,550,600,650,700,750,800], "labelExpr": "datum.value % 100 === 0 ? datum.value + '' : ''", "tickSize": {"condition": {"test": "datum.value % 100 === 0", "value": -6}, "value": -3.5}, "labelPadding": 11.5, "domain": false, "title": "λ (nm)", "titleY": 40, "titleBaseline": "middle"}},
     "y": {"field": "v", "type": "quantitative", "scale": {"domain": [-0.055, 1.6456], "nice": false, "zero": false},
       "axis": {"orient": "left", "values": [0,0.1,0.2,0.3,0.4,0.5,0.6,0.7,0.8,0.9,1,1.1,1.2,1.3,1.4,1.5,1.6], "labelExpr": "round(datum.value*10) % 2 === 0 ? datum.value + '' : ''", "tickSize": {"condition": {"test": "round(datum.value*10) % 2 === 0", "value": -6}, "value": -3.5}, "labelPadding": 10, "domain": false, "title": "A", "titleFontStyle": "italic", "titleX": -39, "titleBaseline": "middle"}}
    },
    "layer": [
     {"data": {"values": [{}]}, "mark": {"type": "rule", "color": "#888", "strokeWidth": 1}, "encoding": {"x": {"datum": 250}, "x2": {"datum": 800}, "y": {"datum": 0}}},
     {"data": {"name": "a_black"}, "mark": {"type": "line", "color": "black", "strokeWidth": 2.2, "clip": true}},
     {"data": {"name": "a_blue"}, "mark": {"type": "line", "color": "#0000ff", "strokeWidth": 2.5, "clip": true}},
     {"data": {"values": [{}]}, "mark": {"type": "rule", "color": "#ff3030", "strokeWidth": 1.2}, "encoding": {"x": {"datum": 300}, "x2": {"datum": 520}, "y": {"datum": 0.013}}},
     {"data": {"values": [{}]}, "mark": {"type": "rule", "color": "#ff3030", "strokeWidth": 1.2}, "encoding": {"x": {"datum": 300}, "x2": {"datum": 520}, "y": {"datum": -0.008}}},
     {"data": {"values": [{}]}, "mark": {"type": "rule", "color": "#ff3030", "strokeWidth": 1.2}, "encoding": {"x": {"datum": 300}, "y": {"datum": -0.008}, "y2": {"datum": 0.013}}},
     {"data": {"values": [{}]}, "mark": {"type": "rule", "color": "#ff3030", "strokeWidth": 1.2}, "encoding": {"x": {"datum": 520}, "y": {"datum": -0.008}, "y2": {"datum": 0.013}}}
    ]
   },
   {
    "data": {"values": [{}]}, "mark": {"type": "point", "opacity": 0},
    "encoding": {
     "x": {"datum": 500, "type": "quantitative", "scale": {"domain": [250, 800], "nice": false, "zero": false}, "axis": {"orient": "top", "values": [300,350,400,450,500,550,600,650,700,750,800], "labels": false, "domain": false, "tickSize": {"condition": {"test": "datum.value % 100 === 0", "value": -6}, "value": -3.5}, "title": "a", "titleFont": "Liberation Sans", "titleFontWeight": "bold", "titleFontSize": 17, "titleColor": "black", "titleAngle": 0, "titleAlign": "left", "titleBaseline": "alphabetic", "titleX": -51.3, "titleY": 16.6}},
     "y": {"datum": 0.5, "type": "quantitative", "scale": {"domain": [-0.055, 1.6456], "nice": false, "zero": false}, "axis": {"orient": "right", "values": [0,0.1,0.2,0.3,0.4,0.5,0.6,0.7,0.8,0.9,1,1.1,1.2,1.3,1.4,1.5,1.6], "labels": false, "domain": false, "title": null, "tickSize": {"condition": {"test": "round(datum.value*10) % 2 === 0", "value": -6}, "value": -3.5}}}
    }
   },
   {
    "encoding": {
     "x": {"field": "w", "type": "quantitative", "scale": {"domain": [323.4, 519.2], "range": [88, 308.5], "nice": false, "zero": false},
       "axis": {"orient": "bottom", "offset": -54.7, "values": [325,350,375,400,425,450,475,500], "labelExpr": "datum.value % 50 === 0 ? datum.value + '' : ''", "tickSize": {"condition": {"test": "datum.value % 50 === 0", "value": -5}, "value": -3}, "labelPadding": 10, "domain": true, "domainColor": "#ff4b4b", "domainWidth": 1.3, "title": null}},
     "y": {"field": "v", "type": "quantitative", "scale": {"domain": [-1.05, 14], "range": [254.3, 10.3], "nice": false, "zero": false},
       "axis": {"orient": "left", "offset": -88, "values": [0,2.5,5,7.5,10,12.5], "labelExpr": "datum.value % 5 === 0 ? datum.value + '' : ''", "tickSize": {"condition": {"test": "datum.value % 5 === 0", "value": -5}, "value": -3}, "labelPadding": 9.5, "domain": true, "domainColor": "#ff4b4b", "domainWidth": 1.3, "title": "(×10⁻³)", "titleX": -41, "titleBaseline": "middle"}}
    },
    "layer": [
     {"data": {"values": [{}]}, "mark": {"type": "rule", "color": "black", "strokeWidth": 1}, "encoding": {"x": {"datum": 323.4}, "x2": {"datum": 519.2}, "y": {"datum": 0}}},
     {"data": {"name": "ai_black"}, "mark": {"type": "line", "color": "black", "strokeWidth": 2.2}},
     {"data": {"name": "ai_blue"}, "mark": {"type": "line", "color": "#0000ff", "strokeWidth": 2.2}}
    ]
   },
   {
    "data": {"values": [{}]}, "mark": {"type": "point", "opacity": 0},
    "encoding": {
     "x": {"datum": 400, "type": "quantitative", "scale": {"domain": [323.4, 519.2], "range": [88, 308.5], "nice": false, "zero": false}, "axis": {"orient": "top", "offset": -10.3, "values": [325,350,375,400,425,450,475,500], "labels": false, "domain": true, "domainColor": "#ff4b4b", "domainWidth": 1.3, "tickSize": {"condition": {"test": "datum.value % 50 === 0", "value": -5}, "value": -3}, "title": ["(∼ 4% of CRY", "bind FAD)"], "titleColor": "#0000ff", "titleFontSize": 16, "titleAngle": 0, "titleAlign": "left", "titleBaseline": "middle", "titleLineHeight": 31.7, "titleX": 123.7, "titleY": 180.3}},
     "y": {"datum": 5, "type": "quantitative", "scale": {"domain": [-1.05, 14], "range": [254.3, 10.3], "nice": false, "zero": false}, "axis": {"orient": "right", "offset": -12.5, "values": [0,2.5,5,7.5,10,12.5], "labels": false, "domain": true, "domainColor": "#ff4b4b", "domainWidth": 1.3, "title": null, "tickSize": {"condition": {"test": "datum.value % 5 === 0", "value": -5}, "value": -3}}}
    }
   }
  ]
 },
 {
  "width": 321, "height": 309,
  "resolve": {"scale": {"x": "independent", "y": "independent"}, "axis": {"x": "independent", "y": "independent"}},
  "layer": [
   {
    "encoding": {
     "x": {"field": "w", "type": "quantitative", "scale": {"domain": [250, 800], "nice": false, "zero": false},
       "axis": {"orient": "bottom", "values": [300,350,400,450,500,550,600,650,700,750,800], "labelExpr": "datum.value % 100 === 0 ? datum.value + '' : ''", "tickSize": {"condition": {"test": "datum.value % 100 === 0", "value": -6}, "value": -3.5}, "labelPadding": 11.5, "domain": false, "title": "λ (nm)", "titleY": 40, "titleBaseline": "middle"}},
     "y": {"field": "v", "type": "quantitative", "scale": {"domain": [-0.052, 1.898], "nice": false, "zero": false},
       "axis": {"orient": "left", "values": [0,0.25,0.5,0.75,1,1.25,1.5,1.75], "labelExpr": "round(datum.value*4) % 2 === 0 ? datum.value + '' : ''", "tickSize": {"condition": {"test": "round(datum.value*4) % 2 === 0", "value": -6}, "value": -3.5}, "labelPadding": 10, "domain": false, "title": "A", "titleFontStyle": "italic", "titleX": -41.7, "titleBaseline": "middle"}}
    },
    "layer": [
     {"data": {"values": [{}]}, "mark": {"type": "rule", "color": "#888", "strokeWidth": 1}, "encoding": {"x": {"datum": 250}, "x2": {"datum": 800}, "y": {"datum": 0}}},
     {"data": {"name": "b_black"}, "mark": {"type": "line", "color": "black", "strokeWidth": 2.2, "clip": true}},
     {"data": {"name": "b_blue"}, "mark": {"type": "line", "color": "#0000ff", "strokeWidth": 2.5, "clip": true}},
     {"data": {"values": [{}]}, "mark": {"type": "rule", "color": "#ff3030", "strokeWidth": 1.2}, "encoding": {"x": {"datum": 300}, "x2": {"datum": 520}, "y": {"datum": 0.064}}},
     {"data": {"values": [{}]}, "mark": {"type": "rule", "color": "#ff3030", "strokeWidth": 1.2}, "encoding": {"x": {"datum": 300}, "x2": {"datum": 520}, "y": {"datum": -0.003}}},
     {"data": {"values": [{}]}, "mark": {"type": "rule", "color": "#ff3030", "strokeWidth": 1.2}, "encoding": {"x": {"datum": 300}, "y": {"datum": -0.003}, "y2": {"datum": 0.064}}},
     {"data": {"values": [{}]}, "mark": {"type": "rule", "color": "#ff3030", "strokeWidth": 1.2}, "encoding": {"x": {"datum": 520}, "y": {"datum": -0.003}, "y2": {"datum": 0.064}}}
    ]
   },
   {
    "data": {"values": [{}]}, "mark": {"type": "point", "opacity": 0},
    "encoding": {
     "x": {"datum": 500, "type": "quantitative", "scale": {"domain": [250, 800], "nice": false, "zero": false}, "axis": {"orient": "top", "values": [300,350,400,450,500,550,600,650,700,750,800], "labels": false, "domain": false, "tickSize": {"condition": {"test": "datum.value % 100 === 0", "value": -6}, "value": -3.5}, "title": "b", "titleFont": "Liberation Sans", "titleFontWeight": "bold", "titleFontSize": 17, "titleColor": "black", "titleAngle": 0, "titleAlign": "left", "titleBaseline": "alphabetic", "titleX": -50.6, "titleY": 18.5}},
     "y": {"datum": 0.5, "type": "quantitative", "scale": {"domain": [-0.052, 1.898], "nice": false, "zero": false}, "axis": {"orient": "right", "values": [0,0.25,0.5,0.75,1,1.25,1.5,1.75], "labels": false, "domain": false, "title": null, "tickSize": {"condition": {"test": "round(datum.value*4) % 2 === 0", "value": -6}, "value": -3.5}}}
    }
   },
   {
    "encoding": {
     "x": {"field": "w", "type": "quantitative", "scale": {"domain": [323.4, 519.2], "range": [88, 308.5], "nice": false, "zero": false},
       "axis": {"orient": "bottom", "offset": -54.7, "values": [325,350,375,400,425,450,475,500], "labelExpr": "datum.value % 50 === 0 ? datum.value + '' : ''", "tickSize": {"condition": {"test": "datum.value % 50 === 0", "value": -5}, "value": -3}, "labelPadding": 10, "domain": true, "domainColor": "#ff4b4b", "domainWidth": 1.3, "title": null}},
     "y": {"field": "v", "type": "quantitative", "scale": {"domain": [-5.1, 64.9], "range": [254.3, 10.3], "nice": false, "zero": false},
       "axis": {"orient": "left", "offset": -88, "values": [0,10,20,30,40,50,60], "labelExpr": "datum.value % 20 === 0 ? datum.value + '' : ''", "tickSize": {"condition": {"test": "datum.value % 20 === 0", "value": -5}, "value": -3}, "labelPadding": 9.5, "domain": true, "domainColor": "#ff4b4b", "domainWidth": 1.3, "title": "(×10⁻³)", "titleX": -41.7, "titleBaseline": "middle"}}
    },
    "layer": [
     {"data": {"values": [{}]}, "mark": {"type": "rule", "color": "black", "strokeWidth": 1}, "encoding": {"x": {"datum": 323.4}, "x2": {"datum": 519.2}, "y": {"datum": 0}}},
     {"data": {"name": "bi_black"}, "mark": {"type": "line", "color": "black", "strokeWidth": 2.2}},
     {"data": {"name": "bi_blue"}, "mark": {"type": "line", "color": "#0000ff", "strokeWidth": 2.2}}
    ]
   },
   {
    "data": {"values": [{}]}, "mark": {"type": "point", "opacity": 0},
    "encoding": {
     "x": {"datum": 400, "type": "quantitative", "scale": {"domain": [323.4, 519.2], "range": [88, 308.5], "nice": false, "zero": false}, "axis": {"orient": "top", "offset": -10.3, "values": [325,350,375,400,425,450,475,500], "labels": false, "domain": true, "domainColor": "#ff4b4b", "domainWidth": 1.3, "tickSize": {"condition": {"test": "datum.value % 50 === 0", "value": -5}, "value": -3}, "title": ["(∼ 31% of CRY", "bind FAD)"], "titleColor": "#0000ff", "titleFontSize": 16, "titleAngle": 0, "titleAlign": "left", "titleBaseline": "middle", "titleLineHeight": 31.7, "titleX": 123, "titleY": 170.3}},
     "y": {"datum": 5, "type": "quantitative", "scale": {"domain": [-5.1, 64.9], "range": [254.3, 10.3], "nice": false, "zero": false}, "axis": {"orient": "right", "offset": -12.5, "values": [0,10,20,30,40,50,60], "labels": false, "domain": true, "domainColor": "#ff4b4b", "domainWidth": 1.3, "title": null, "tickSize": {"condition": {"test": "datum.value % 20 === 0", "value": -5}, "value": -3}}}
    }
   }
  ]
 },
 {
  "width": 321, "height": 309,
  "resolve": {"scale": {"x": "independent", "y": "independent"}, "axis": {"x": "independent", "y": "independent"}},
  "layer": [
   {
    "encoding": {
     "x": {"field": "w", "type": "quantitative", "scale": {"domain": [310, 700], "nice": false, "zero": false},
       "axis": {"orient": "bottom", "values": [350,400,450,500,550,600,650,700], "labelExpr": "datum.value % 100 === 0 ? datum.value + '' : ''", "tickSize": {"condition": {"test": "datum.value % 100 === 0", "value": -6}, "value": -3.5}, "labelPadding": 11.5, "domain": false, "title": "λ (nm)", "titleY": 36, "titleBaseline": "middle"}},
     "y": {"field": "v", "type": "quantitative", "scale": {"domain": [-5.05, 64.9], "nice": false, "zero": false},
       "axis": {"orient": "left", "values": [0,5,10,15,20,25,30,35,40,45,50,55,60], "labelExpr": "datum.value % 10 === 0 ? datum.value + '' : ''", "tickSize": {"condition": {"test": "datum.value % 10 === 0", "value": -6}, "value": -3.5}, "labelPadding": 10, "domain": false, "title": "A (×10⁻³)", "titleX": -39, "titleBaseline": "middle"}}
    },
    "layer": [
     {"data": {"values": [{}]}, "mark": {"type": "rule", "color": "#888", "strokeWidth": 1}, "encoding": {"x": {"datum": 310}, "x2": {"datum": 700}, "y": {"datum": 0}}},
     {"data": {"name": "c_curves"}, "mark": {"type": "line", "strokeWidth": 2.2, "clip": true}, "encoding": {"color": {"field": "k", "type": "ordinal", "scale": {"domain": [0,1,2,3,4], "range": ["#0000ff", "#3c00c3", "#7a0085", "#b8004a", "#ff0000"]}, "legend": null}}}
    ]
   },
   {
    "data": {"values": [{}]}, "mark": {"type": "point", "opacity": 0},
    "encoding": {
     "x": {"datum": 500, "type": "quantitative", "scale": {"domain": [310, 700], "nice": false, "zero": false}, "axis": {"orient": "top", "values": [350,400,450,500,550,600,650,700], "labels": false, "domain": false, "tickSize": {"condition": {"test": "datum.value % 100 === 0", "value": -6}, "value": -3.5}, "title": "c", "titleFont": "Liberation Sans", "titleFontWeight": "bold", "titleFontSize": 17, "titleColor": "black", "titleAngle": 0, "titleAlign": "left", "titleBaseline": "alphabetic", "titleX": -49.3, "titleY": 15.7}},
     "y": {"datum": 10, "type": "quantitative", "scale": {"domain": [-5.05, 64.9], "nice": false, "zero": false}, "axis": {"orient": "right", "values": [0,5,10,15,20,25,30,35,40,45,50,55,60], "labels": false, "domain": false, "tickSize": {"condition": {"test": "datum.value % 10 === 0", "value": -6}, "value": -3.5}, "title": "{", "titleColor": "#222", "titleFontSize": 15, "titleAngle": 0, "titleAlign": "left", "titleBaseline": "middle", "titleX": -313.6, "titleY": 269.7}}
    }
   },
   {
    "encoding": {
     "x": {"field": "n", "type": "quantitative", "scale": {"domain": [0, 11], "range": [187.4, 309], "nice": false, "zero": false},
       "axis": {"orient": "bottom", "offset": -165.6, "values": [0,2.5,5,7.5,10], "labelExpr": "datum.value % 5 === 0 ? datum.value + '' : ''", "tickSize": {"condition": {"test": "datum.value % 5 === 0", "value": -5}, "value": -3}, "labelPadding": 10, "domain": true, "domainColor": "#444", "domainWidth": 1.2, "title": "N", "titleFontStyle": "italic", "titleY": 40, "titleBaseline": "middle"}},
     "y": {"field": "s", "type": "quantitative", "scale": {"domain": [1.4, 2.45], "range": [143.4, 10], "nice": false, "zero": false},
       "axis": {"orient": "left", "offset": -187.4, "values": [1.5,1.75,2,2.25], "labelExpr": "round(datum.value*4) % 2 === 0 ? datum.value + '' : ''", "tickSize": {"condition": {"test": "round(datum.value*4) % 2 === 0", "value": -5}, "value": -3}, "labelPadding": 9.5, "domain": true, "domainColor": "#444", "domainWidth": 1.2, "title": "σ (×10⁻³)", "titleX": -35, "titleBaseline": "middle"}}
    },
    "data": {"name": "ci"},
    "layer": [
     {"mark": {"type": "line", "color": "black", "strokeWidth": 1.8}},
     {"mark": {"type": "point", "shape": "circle", "filled": true, "fill": "white", "stroke": "black", "strokeWidth": 1.8, "size": 45, "opacity": 1}}
    ]
   },
   {
    "data": {"values": [{}]}, "mark": {"type": "point", "opacity": 0},
    "encoding": {
     "x": {"datum": 5, "type": "quantitative", "scale": {"domain": [0, 11], "range": [187.4, 309], "nice": false, "zero": false}, "axis": {"orient": "top", "offset": -10, "values": [0,2.5,5,7.5,10], "labels": false, "domain": true, "domainColor": "#444", "domainWidth": 1.2, "tickSize": {"condition": {"test": "datum.value % 5 === 0", "value": -5}, "value": -3}, "title": "0", "titleColor": "#0000ff", "titleFontSize": 15, "titleAngle": 0, "titleAlign": "left", "titleBaseline": "middle", "titleX": 15.7, "titleY": 259.7}},
     "y": {"datum": 2, "type": "quantitative", "scale": {"domain": [1.4, 2.45], "range": [143.4, 10], "nice": false, "zero": false}, "axis": {"orient": "right", "offset": -12, "values": [1.5,1.75,2,2.25], "labels": false, "domain": true, "domainColor": "#444", "domainWidth": 1.2, "tickSize": {"condition": {"test": "round(datum.value*4) % 2 === 0", "value": -5}, "value": -3}, "title": ",\u2009…\u2009,", "titleColor": "#222", "titleFontSize": 15, "titleAngle": 0, "titleAlign": "left", "titleBaseline": "middle", "titleX": -283.6, "titleY": 269.7}}
    }
   },
   {
    "data": {"values": [{}]}, "mark": {"type": "point", "opacity": 0},
    "encoding": {
     "x": {"datum": 0.5, "type": "quantitative", "scale": {"domain": [0, 1]}, "axis": {"orient": "bottom", "ticks": false, "labels": false, "domain": false, "title": "970", "titleColor": "#ff0000", "titleFontSize": 15, "titleAngle": 0, "titleAlign": "left", "titleBaseline": "middle", "titleX": 57.4, "titleY": -39.3}},
     "y": {"datum": 0.5, "type": "quantitative", "scale": {"domain": [0, 1]}, "axis": {"orient": "left", "ticks": false, "labels": false, "domain": false, "title": "} s", "titleColor": "#222", "titleFontSize": 15, "titleAngle": 0, "titleAlign": "left", "titleBaseline": "middle", "titleX": 90.7, "titleY": 269.7}}
    }
   }
  ]
 },
 {
  "width": 321, "height": 309,
  "resolve": {"scale": {"x": "independent", "y": "independent"}, "axis": {"x": "independent", "y": "independent"}},
  "layer": [
   {
    "encoding": {
     "x": {"field": "w", "type": "quantitative", "scale": {"domain": [350, 700], "nice": false, "zero": false},
       "axis": {"orient": "bottom", "values": [350,375,400,425,450,475,500,525,550,575,600,625,650,675,700], "labelExpr": "datum.value % 50 === 0 ? datum.value + '' : ''", "tickSize": {"condition": {"test": "datum.value % 50 === 0", "value": -6}, "value": -3.5}, "labelPadding": 11.5, "domain": false, "title": "λ (nm)", "titleY": 36, "titleBaseline": "middle"}},
     "y": {"field": "v", "type": "quantitative", "scale": {"domain": [-1, 17.97], "nice": false, "zero": false},
       "axis": {"orient": "left", "values": [0,2.5,5,7.5,10,12.5,15,17.5], "labelExpr": "datum.value % 5 === 0 ? datum.value + '' : ''", "tickSize": {"condition": {"test": "datum.value % 5 === 0", "value": -6}, "value": -3.5}, "labelPadding": 10, "domain": false, "title": "ε (×10³ M⁻¹ (cm)⁻¹)", "titleX": -43, "titleBaseline": "middle"}}
    },
    "layer": [
     {"data": {"values": [{}]}, "mark": {"type": "rule", "color": "#888", "strokeWidth": 1}, "encoding": {"x": {"datum": 350}, "x2": {"datum": 700}, "y": {"datum": 0}}},
     {"data": {"name": "d_red"}, "mark": {"type": "line", "color": "#ee1111", "strokeWidth": 2, "clip": true}},
     {"data": {"name": "d_blue"}, "mark": {"type": "line", "color": "#1010ee", "strokeWidth": 2, "clip": true}},
     {"data": {"name": "d_lblue"}, "mark": {"type": "line", "color": "#22a6e6", "strokeWidth": 2, "clip": true}},
     {"data": {"name": "d_black"}, "mark": {"type": "line", "color": "black", "strokeWidth": 2, "clip": true}}
    ]
   },
   {
    "data": {"values": [{}]}, "mark": {"type": "point", "opacity": 0},
    "encoding": {
     "x": {"datum": 500, "type": "quantitative", "scale": {"domain": [350, 700], "nice": false, "zero": false}, "axis": {"orient": "top", "values": [350,375,400,425,450,475,500,525,550,575,600,625,650,675,700], "labels": false, "domain": false, "tickSize": {"condition": {"test": "datum.value % 50 === 0", "value": -6}, "value": -3.5}, "title": "d", "titleFont": "Liberation Sans", "titleFontWeight": "bold", "titleFontSize": 17, "titleColor": "black", "titleAngle": 0, "titleAlign": "left", "titleBaseline": "alphabetic", "titleX": -50.6, "titleY": 16.7}},
     "y": {"datum": 5, "type": "quantitative", "scale": {"domain": [-1, 17.97], "nice": false, "zero": false}, "axis": {"orient": "right", "values": [0,2.5,5,7.5,10,12.5,15,17.5], "labels": false, "domain": false, "title": null, "tickSize": {"condition": {"test": "datum.value % 5 === 0", "value": -6}, "value": -3.5}}}
    }
   },
   {
    "encoding": {
     "x": {"field": "t", "type": "quantitative", "scale": {"domain": [-1, 10.9], "range": [176, 308], "nice": false, "zero": false},
       "axis": {"orient": "bottom", "offset": -189, "values": [0,2.5,5,7.5,10], "labelExpr": "datum.value % 5 === 0 ? datum.value + '' : ''", "tickSize": {"condition": {"test": "datum.value % 5 === 0", "value": -5}, "value": -3}, "labelPadding": 10, "domain": true, "domainColor": "#444", "domainWidth": 1.2, "title": "t (×10² s)", "titleY": 41, "titleBaseline": "middle"}},
     "y": {"field": "x", "type": "quantitative", "scale": {"domain": [-0.1, 1.1], "range": [120, 10.7], "nice": false, "zero": false},
       "axis": {"orient": "left", "offset": -176, "values": [0,0.25,0.5,0.75,1], "labelExpr": "round(datum.value*4) % 2 === 0 ? datum.value + '' : ''", "tickSize": {"condition": {"test": "round(datum.value*4) % 2 === 0", "value": -5}, "value": -3}, "labelPadding": 9.5, "domain": true, "domainColor": "#444", "domainWidth": 1.2, "title": "xᵢ", "titleFont": "Liberation Serif", "titleFontSize": 18, "titleFontStyle": "italic", "titleX": -42, "titleBaseline": "middle"}}
    },
    "layer": [
     {"data": {"values": [{}]}, "mark": {"type": "rule", "color": "black", "strokeWidth": 1, "strokeDash": [4, 3]}, "encoding": {"x": {"datum": -1}, "x2": {"datum": 10.9}, "y": {"datum": 0}}},
     {"data": {"name": "di_red"}, "mark": {"type": "line", "color": "#ff0000", "strokeWidth": 1.2}},
     {"data": {"name": "di_red"}, "mark": {"type": "point", "shape": "circle", "filled": false, "color": "#ff0000", "strokeWidth": 1.4, "size": 36, "opacity": 1}},
     {"data": {"name": "di_black"}, "mark": {"type": "line", "color": "black", "strokeWidth": 1.2}},
     {"data": {"name": "di_black"}, "mark": {"type": "point", "shape": "circle", "filled": false, "color": "black", "strokeWidth": 1.3, "size": 36, "opacity": 1}},
     {"data": {"name": "di_blue"}, "mark": {"type": "line", "color": "#0000ff", "strokeWidth": 1.2}},
     {"data": {"name": "di_blue"}, "mark": {"type": "point", "shape": "circle", "filled": false, "color": "#0000ff", "strokeWidth": 1.3, "size": 36, "opacity": 1}}
    ]
   },
   {
    "data": {"values": [{}]}, "mark": {"type": "point", "opacity": 0},
    "encoding": {
     "x": {"datum": 5, "type": "quantitative", "scale": {"domain": [-1, 10.9], "range": [176, 308], "nice": false, "zero": false}, "axis": {"orient": "top", "offset": -10.7, "values": [0,2.5,5,7.5,10], "labels": false, "domain": true, "domainColor": "#444", "domainWidth": 1.2, "title": null, "tickSize": {"condition": {"test": "datum.value % 5 === 0", "value": -5}, "value": -3}}},
     "y": {"datum": 0.5, "type": "quantitative", "scale": {"domain": [-0.1, 1.1], "range": [120, 10.7], "nice": false, "zero": false}, "axis": {"orient": "right", "offset": -13, "values": [0,0.25,0.5,0.75,1], "labels": false, "domain": true, "domainColor": "#444", "domainWidth": 1.2, "title": null, "tickSize": {"condition": {"test": "round(datum.value*4) % 2 === 0", "value": -5}, "value": -3}}}
    }
   }
  ]
 }
]
}
